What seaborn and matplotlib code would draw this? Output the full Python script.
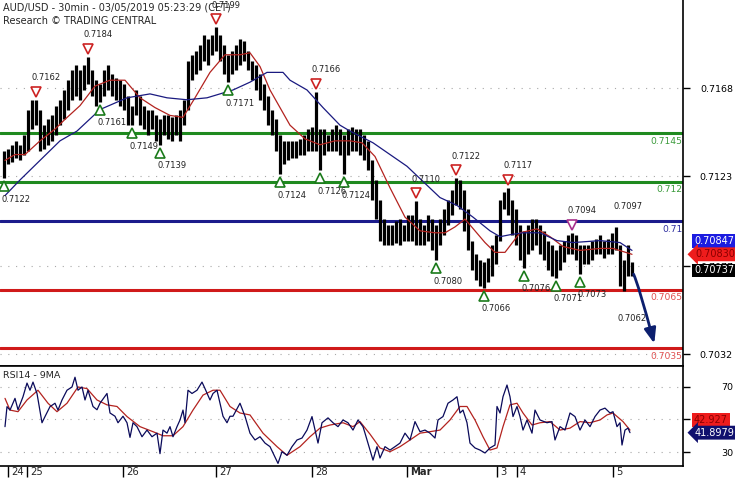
import numpy as np
import matplotlib
matplotlib.use("Agg")
import matplotlib.pyplot as plt
from matplotlib import transforms
import seaborn as sns

# hourly high / low since the Sunday 24 Feb open (t = hours)
bar_high = [0.7136, 0.7137, 0.7139, 0.7141, 0.7139, 0.7144, 0.7157, 0.7162, 0.7162, 0.7157,
            0.7149, 0.7152, 0.7154, 0.7159, 0.7162, 0.7167, 0.7172, 0.7177, 0.7180, 0.7177,
            0.7180, 0.7184, 0.7177, 0.7172, 0.7170, 0.7177, 0.7180, 0.7175, 0.7173, 0.7172,
            0.7170, 0.7164, 0.7159, 0.7167, 0.7164, 0.7159, 0.7157, 0.7157, 0.7154, 0.7152,
            0.7154, 0.7154, 0.7153, 0.7154, 0.7157, 0.7162, 0.7182, 0.7185, 0.7187, 0.7190,
            0.7195, 0.7193, 0.7195, 0.7199, 0.7195, 0.7190, 0.7185, 0.7187, 0.7190, 0.7193,
            0.7192, 0.7187, 0.7182, 0.7180, 0.7175, 0.7170, 0.7164, 0.7157, 0.7152, 0.7144,
            0.7141, 0.7141, 0.7141, 0.7141, 0.7142, 0.7144, 0.7147, 0.7148, 0.7166, 0.7147,
            0.7147, 0.7144, 0.7147, 0.7149, 0.7147, 0.7144, 0.7147, 0.7148, 0.7147, 0.7147,
            0.7144, 0.7141, 0.7131, 0.7121, 0.7111, 0.7101, 0.7098, 0.7098, 0.7100, 0.7101,
            0.7098, 0.7103, 0.7103, 0.7110, 0.7101, 0.7098, 0.7103, 0.7101, 0.7098, 0.7101,
            0.7106, 0.7111, 0.7116, 0.7122, 0.7121, 0.7116, 0.7106, 0.7090, 0.7083, 0.7080,
            0.7079, 0.7081, 0.7088, 0.7093, 0.7111, 0.7115, 0.7117, 0.7111, 0.7106, 0.7098,
            0.7095, 0.7098, 0.7101, 0.7101, 0.7098, 0.7095, 0.7090, 0.7088, 0.7085, 0.7088,
            0.7090, 0.7093, 0.7094, 0.7093, 0.7088, 0.7088, 0.7088, 0.7090, 0.7091, 0.7093,
            0.7090, 0.7091, 0.7094, 0.7097, 0.7088, 0.7080, 0.7088, 0.7079]
bar_low = [0.7122, 0.7129, 0.7130, 0.7132, 0.7131, 0.7134, 0.7136, 0.7147, 0.7149, 0.7136,
           0.7137, 0.7139, 0.7141, 0.7144, 0.7149, 0.7152, 0.7157, 0.7162, 0.7164, 0.7162,
           0.7167, 0.7170, 0.7164, 0.7159, 0.7161, 0.7164, 0.7167, 0.7164, 0.7162, 0.7159,
           0.7157, 0.7149, 0.7149, 0.7154, 0.7149, 0.7147, 0.7144, 0.7147, 0.7141, 0.7139,
           0.7144, 0.7142, 0.7141, 0.7144, 0.7141, 0.7149, 0.7157, 0.7172, 0.7175, 0.7177,
           0.7182, 0.7180, 0.7185, 0.7187, 0.7182, 0.7175, 0.7171, 0.7175, 0.7177, 0.7180,
           0.7182, 0.7177, 0.7172, 0.7167, 0.7162, 0.7157, 0.7149, 0.7144, 0.7136, 0.7124,
           0.7129, 0.7131, 0.7132, 0.7132, 0.7134, 0.7134, 0.7136, 0.7136, 0.7136, 0.7126,
           0.7134, 0.7136, 0.7136, 0.7136, 0.7134, 0.7124, 0.7134, 0.7136, 0.7136, 0.7134,
           0.7131, 0.7126, 0.7111, 0.7101, 0.7090, 0.7088, 0.7088, 0.7088, 0.7089, 0.7088,
           0.7090, 0.7090, 0.7090, 0.7088, 0.7088, 0.7088, 0.7090, 0.7085, 0.7080, 0.7088,
           0.7093, 0.7098, 0.7103, 0.7108, 0.7106, 0.7095, 0.7085, 0.7075, 0.7070, 0.7067,
           0.7066, 0.7069, 0.7072, 0.7078, 0.7090, 0.7106, 0.7103, 0.7093, 0.7088, 0.7080,
           0.7076, 0.7083, 0.7085, 0.7088, 0.7083, 0.7080, 0.7075, 0.7072, 0.7071, 0.7075,
           0.7079, 0.7083, 0.7083, 0.7080, 0.7073, 0.7078, 0.7078, 0.7080, 0.7083, 0.7083,
           0.7081, 0.7083, 0.7083, 0.7085, 0.7067, 0.7064, 0.7072, 0.7072]

# moving averages on price
ma_fast_t = [0.25, 2.75, 5.25, 9, 12.75, 15.25, 19, 22.75, 26.5, 30.25, 34, 37.75, 41.5, 44.75,
             47.75, 51.5, 55.25, 59, 61.5, 64, 66.5, 69, 71.5, 75.25, 79, 82.75, 86.5, 89.5,
             92.75, 96.5, 100.25, 104, 107.75, 110.25, 112.75, 115.25, 117.75, 120.25, 122.75,
             125.25, 129, 133.25, 136.5, 139.75, 144, 149, 152.25, 157]
ma_fast = [0.7131, 0.7134, 0.7134, 0.7141, 0.7147, 0.7152, 0.7159, 0.7169, 0.7172, 0.7172,
           0.7163, 0.7158, 0.7154, 0.7153, 0.7163, 0.7176, 0.7185, 0.7185, 0.7186, 0.7179,
           0.7167, 0.7158, 0.7149, 0.7142, 0.7139, 0.7141, 0.7141, 0.7140, 0.7133, 0.7117,
           0.7102, 0.7095, 0.7094, 0.7094, 0.7097, 0.7101, 0.7095, 0.7089, 0.7084, 0.7084,
           0.7094, 0.7096, 0.7092, 0.7087, 0.7085, 0.7086, 0.7086, 0.7083]
ma_slow_t = [0.25, 4, 9, 14, 18.25, 24, 30.75, 36.5, 40.75, 45.75, 50.75, 57.25, 61.5, 65.75,
             69.75, 71.5, 75.75, 79.75, 84, 86.5, 92.25, 100.75, 109, 113.25, 117.25, 121.5,
             124, 126.5, 129.75, 134, 138.25, 142.25, 149, 154, 157]
ma_slow = [0.7113, 0.7121, 0.7131, 0.7141, 0.7146, 0.7157, 0.7163, 0.7165, 0.7163, 0.7162,
           0.7163, 0.7167, 0.7171, 0.7176, 0.7176, 0.7172, 0.7167, 0.7158, 0.7149, 0.7146,
           0.7140, 0.7128, 0.7112, 0.7108, 0.7102, 0.7095, 0.7092, 0.7093, 0.7094, 0.7094,
           0.7090, 0.7089, 0.7090, 0.7089, 0.7085]

# RSI14 and its 9 period average
rsi_t = [0.25, 0.75, 1.5, 2.75, 3.5, 4.75, 5.75, 6.5, 7.25, 8.25, 9.5, 10.25, 11.5, 12.75, 13.5,
         14.5, 15.75, 17, 17.75, 18.5, 19.5, 20.25, 21, 22.25, 23.25, 24, 25.75, 26.5, 27.75,
         28.5, 29.75, 30.75, 31.5, 32.25, 33.25, 34.5, 35.75, 37, 38.25, 39, 39.75, 40.75,
         41.5, 42.25, 43.25, 44, 44.75, 45.25, 46, 47, 48.25, 49.5, 50.25, 51.5, 52.25, 53.25,
         54, 54.75, 55.75, 56.5, 57.25, 59, 60.25, 61.5, 62.75, 64, 65.25, 66.5, 67.25, 68.5,
         69.5, 70.75, 72, 73.25, 74.5, 75.75, 77, 77.75, 78.5, 79.5, 81, 82.25, 83.5, 84.75,
         86, 87.25, 88.5, 89.75, 90.25, 91.5, 92.25, 93.25, 94, 95.25, 96.5, 97.75, 99,
         100.25, 101.5, 102.75, 104, 105.25, 106.5, 107.75, 108.5, 109.75, 111, 112.25,
         113.25, 114, 114.75, 115.75, 116.5, 117.75, 119, 120.25, 121.5, 122.75, 123.25, 124,
         124.75, 125.75, 126.5, 127.25, 128.25, 129, 129.75, 130.75, 132, 132.75, 134, 135.75,
         137, 137.75, 139, 140.25, 141.5, 142.75, 144, 145.25, 146.5, 147.75, 149, 150.25,
         151.5, 152.25, 153.25, 154, 154.5, 155.25, 156, 156.5]
rsi = [45.6, 57.9, 55.8, 63, 56, 64, 72.4, 68, 73, 66, 48, 51.8, 57.9, 60, 55.8,
       62, 68, 70, 76, 68, 70, 62, 68, 58, 56, 60, 66, 54, 52,
       48, 52, 48, 39, 48, 45.6, 39.4, 43.5, 39.4, 41.6, 29, 43.5, 41.6,
       45.6, 39.4, 45.6, 49.7, 55.8, 48, 68, 66, 68, 73, 69, 62, 66, 68,
       60, 52, 48, 52, 52, 60, 52, 41.6, 37.4, 39.4, 35.5, 33.3, 29.4, 23,
       30.2, 28, 33.3, 37.4, 38.6, 43.5, 51.8, 43.5, 35.5, 48, 51, 48, 45.6, 49.7,
       48, 43.5, 49.7, 45.6, 41.6, 31.2, 25, 33.3, 26.3, 33.3, 31.2, 33.3, 35.5,
       41.6, 37.4, 48.7, 42.5, 43.5, 41.6, 38.6, 49.7, 51.8, 60, 62,
       64, 54, 55.8, 48, 35.5, 32.5, 31.2, 29.4, 32.5, 34.3, 58, 54,
       64, 71.2, 64, 51.8, 58, 51.8, 43.5, 49.7, 41.6, 55.8, 49.7, 48,
       48.7, 37.4, 45.6, 43.5, 54, 51.8, 43.5, 49.7, 45.6, 51.8, 55.8, 57,
       54, 54.8, 45.6, 48, 34.3, 43.5, 44.7, 41.9]
rsi_ma_t = [0.25, 1.5, 3.5, 5.75, 8.5, 11, 13.25, 15.75, 18.5, 20.75, 23.25, 25.75, 28.25,
            30.75, 34, 37.25, 39.75, 42.25, 44.75, 47.25, 49.75, 52.25, 54, 56.5, 59, 61.5,
            64.75, 68.25, 70.75, 74, 76.5, 79, 81.5, 84.75, 87.25, 89, 91.5, 94, 96.5, 99,
            101.5, 104, 106.5, 109, 111.5, 114, 115.75, 117.75, 119.75, 121.5, 123.25, 124.75,
            126.5, 128.25, 129.75, 132, 134, 136.5, 139, 141.5, 144, 146.5, 149, 150.75,
            152.25, 154.75, 156.5]
rsi_ma = [63, 55.8, 54.8, 62, 68, 60, 54.8, 60, 70, 69, 62, 59, 58,
          51.8, 45.6, 42.5, 40, 40, 45.6, 55.8, 65, 68, 68, 58, 54, 52.8,
          41.6, 33.3, 28, 33.3, 39.4, 44.7, 46.6, 48, 45.6, 48.7, 41, 32.5, 30.2, 33.3,
          37.4, 41.6, 42.5, 43.5, 49.7, 58, 58, 49.7, 39.4, 31.2, 32.5, 45.6,
          59, 60, 54, 46.6, 48, 48.7, 43.5, 44.7, 48.7, 48, 49.7, 52.8,
          54, 48.7, 43.5]

# swing points flagged on the chart
peak_t = [8, 21, 53, 78, 103, 113, 126, 142]
peak_val = [0.7162, 0.7184, 0.7199, 0.7166, 0.7110, 0.7122, 0.7117, 0.7094]
trough_t = [0, 24, 32, 39, 56, 69, 79, 85, 108, 120, 130, 138, 144]
trough_val = [0.7122, 0.7161, 0.7149, 0.7139, 0.7171, 0.7124, 0.7126, 0.7124,
              0.7080, 0.7066, 0.7076, 0.7071, 0.7073]

# support / resistance levels and target
levels = [0.7145, 0.712, 0.71, 0.7065, 0.7035]
level_labels = ["0.7145", "0.712", "0.71", "0.7065", "0.7035"]

price_ticks = [0.7168, 0.7123, 0.7077, 0.7032]
rsi_ticks = [70, 50, 30]
rsi_tick_labels = ["70", "", "30"]
day_t = [1, 5.75, 29.75, 53, 77, 100.75, 123.25, 128.25, 152.25]
day_labels = ["24", "25", "26", "27", "28", "Mar", "3", "4", "5"]

last_slow, last_fast, last_close = 0.70847, 0.70830, 0.70737
last_rsi_ma, last_rsi = 42.927, 41.8979
arrow_from = (157, 0.7074)
arrow_to = (162.75, 0.7036)

# ---- styles ----
level_colors = ["#1f8a1f", "#1f8a1f", "#1c1c8c", "#d01a1a", "#d01a1a"]
level_text_colors = ["#3a9a3a", "#3a9a3a", "#3030a0", "#e05050", "#e05050"]
peak_colors = ["#cc2222"] * 7 + ["#a8308c"]

sns.set_style("white")
plt.rcParams["font.family"] = ["DejaVu Sans"]

fig = plt.figure(figsize=(7.35, 4.8), dpi=100)
ax = fig.add_axes([0, 114 / 480, 683 / 735, 366 / 480])
ax_rsi = fig.add_axes([0, 14 / 480, 683 / 735, 100 / 480])


def shift(a, dx, dy, base=None):
    base = a.transData if base is None else base
    return base + transforms.ScaledTranslation(dx / 100, dy / 100, fig.dpi_scale_trans)


# price panel
hours = np.arange(len(bar_high))
ax.vlines(hours, bar_low, bar_high, color="black", lw=2.3, zorder=3)
sns.lineplot(x=ma_fast_t, y=ma_fast, ax=ax, color="#b3231f", lw=0.9, zorder=4)
sns.lineplot(x=ma_slow_t, y=ma_slow, ax=ax, color="#1a1a80", lw=0.9, zorder=4)

for lv, lab, c, tc in zip(levels, level_labels, level_colors, level_text_colors):
    ax.axhline(lv, color=c, lw=2.2, zorder=2)
    ax.text(169.6, lv, lab, transform=shift(ax, 0, -8), ha="right", va="center",
            color=tc, fontsize=6.6, zorder=6)

for t, v, c in zip(peak_t, peak_val, peak_colors):
    ax.plot([t], [v], marker="v", ms=7, mfc="white", mec=c, mew=1.2, ls="none",
            transform=shift(ax, 0, 8), zorder=5)
    ax.text(t, v, f"{v:.4f}", transform=shift(ax, -5, 22), ha="left", va="center",
            fontsize=6, color="#222222", zorder=6)
for t, v in zip(trough_t, trough_val):
    ax.plot([t], [v], marker="^", ms=7, mfc="white", mec="#1a7a1a", mew=1.2, ls="none",
            transform=shift(ax, 0, -8), zorder=5)
    ax.text(t, v, f"{v:.4f}", transform=shift(ax, -3, -21), ha="left", va="center",
            fontsize=6, color="#222222", zorder=6)

# projected high / low labels without markers
ax.text(153, 0.7097, "0.7097", transform=shift(ax, -3, 20), ha="left", va="center",
        fontsize=6, color="#222222")
ax.text(154, 0.7062, "0.7062", transform=shift(ax, -2, -23), ha="left", va="center",
        fontsize=6, color="#222222")

ax.annotate("", xy=arrow_to, xytext=arrow_from, zorder=6,
            arrowprops=dict(arrowstyle="-|>,head_length=0.9,head_width=0.35",
                            color="#0c1f6e", lw=2,
                            connectionstyle="angle3,angleA=0,angleB=-75"))

ax.set_xlim(-1, 169.75)
ax.set_ylim(0.70259, 0.7213)
ax.yaxis.tick_right()
ax.set_yticks(price_ticks, labels=[f"{p:.4f}" for p in price_ticks], ha="right")
ax.tick_params(axis="y", right=True, left=False, direction="out", length=5, width=1,
               pad=31, labelsize=6.8, colors="black")
ax.tick_params(axis="x", bottom=False, labelbottom=False)
ax.yaxis.grid(True, color="#a8a8a8", ls=(0, (1, 6)), lw=0.8)
ax.xaxis.grid(False)
for s in ["left", "top"]:
    ax.spines[s].set_visible(False)
for s in ["right", "bottom"]:
    ax.spines[s].set_color("black")
    ax.spines[s].set_linewidth(1.2)

# last-value boxes on the price scale
yblend = transforms.blended_transform_factory(ax.transAxes, ax.transData)
ax.text(1.0, last_slow, f"{last_slow:.5f}", transform=shift(ax, 11, 10, yblend),
        va="center", ha="left", fontsize=7, color="white", clip_on=False, zorder=10,
        bbox=dict(boxstyle="square,pad=0.2", fc="#1c1ce0", ec="none"))
ax.text(1.0, last_fast, f"{last_fast:.5f}", transform=shift(ax, 12, 0, yblend),
        va="center", ha="left", fontsize=7, color="#8a0000", clip_on=False, zorder=11,
        bbox=dict(boxstyle="larrow,pad=0.2", fc="#ee1c1c", ec="none"))
ax.text(1.0, last_close, f"{last_close:.5f}", transform=shift(ax, 11, 2, yblend),
        va="center", ha="left", fontsize=7, color="white", clip_on=False, zorder=12,
        bbox=dict(boxstyle="square,pad=0.2", fc="black", ec="none"))

fig.text(3 / 735, 1 - 8 / 480, "AUD/USD - 30min - 03/05/2019 05:23:29 (CET)",
         va="center", ha="left", fontsize=7)
fig.text(3 / 735, 1 - 21 / 480, "Research \u00a9 TRADING CENTRAL",
         va="center", ha="left", fontsize=7)

# RSI panel
sns.lineplot(x=rsi_ma_t, y=rsi_ma, ax=ax_rsi, color="#b3231f", lw=0.9, zorder=3)
sns.lineplot(x=rsi_t, y=rsi, ax=ax_rsi, color="#0a0a5a", lw=0.9, zorder=4)
ax_rsi.set_xlim(-1, 169.75)
ax_rsi.set_ylim(21.4, 82.9)
ax_rsi.yaxis.tick_right()
ax_rsi.set_yticks(rsi_ticks, labels=rsi_tick_labels, ha="right")
ax_rsi.tick_params(axis="y", right=True, left=False, direction="out", length=5,
                   width=1, pad=31, labelsize=6.8, colors="black")
ax_rsi.set_xticks(day_t)
ax_rsi.tick_params(axis="x", bottom=True, direction="out", length=8, width=1,
                   labelbottom=False, colors="black")
ax_rsi.yaxis.grid(True, color="#a8a8a8", ls=(0, (1, 6)), lw=0.8)
ax_rsi.xaxis.grid(False)
ax_rsi.spines["left"].set_visible(False)
for s in ["right", "bottom", "top"]:
    ax_rsi.spines[s].set_color("black")
    ax_rsi.spines[s].set_linewidth(1.2)
ax_rsi.text(0.004, 0.91, "RSI14 - 9MA", transform=ax_rsi.transAxes, ha="left",
            va="center", fontsize=6.8)

xblend = transforms.blended_transform_factory(ax_rsi.transData, ax_rsi.transAxes)
for t, lab in zip(day_t, day_labels):
    ax_rsi.text(t, 0, lab, transform=shift(ax_rsi, 3, -1, xblend), ha="left", va="top",
                fontsize=7.2, fontweight="bold" if lab == "Mar" else "normal",
                clip_on=False)

ryblend = transforms.blended_transform_factory(ax_rsi.transAxes, ax_rsi.transData)
ax_rsi.text(1.0, last_rsi_ma, f"{last_rsi_ma:.3f}", transform=shift(ax_rsi, 11, 11, ryblend),
            va="center", ha="left", fontsize=7, color="#8a0000", clip_on=False, zorder=10,
            bbox=dict(boxstyle="square,pad=0.2", fc="#ee1c1c", ec="none"))
ax_rsi.text(1.0, last_rsi, f"{last_rsi:.4f}", transform=shift(ax_rsi, 12, 0, ryblend),
            va="center", ha="left", fontsize=7, color="white", clip_on=False, zorder=11,
            bbox=dict(boxstyle="larrow,pad=0.2", fc="#10106e", ec="none"))

fig.savefig("out.png", dpi=100)
